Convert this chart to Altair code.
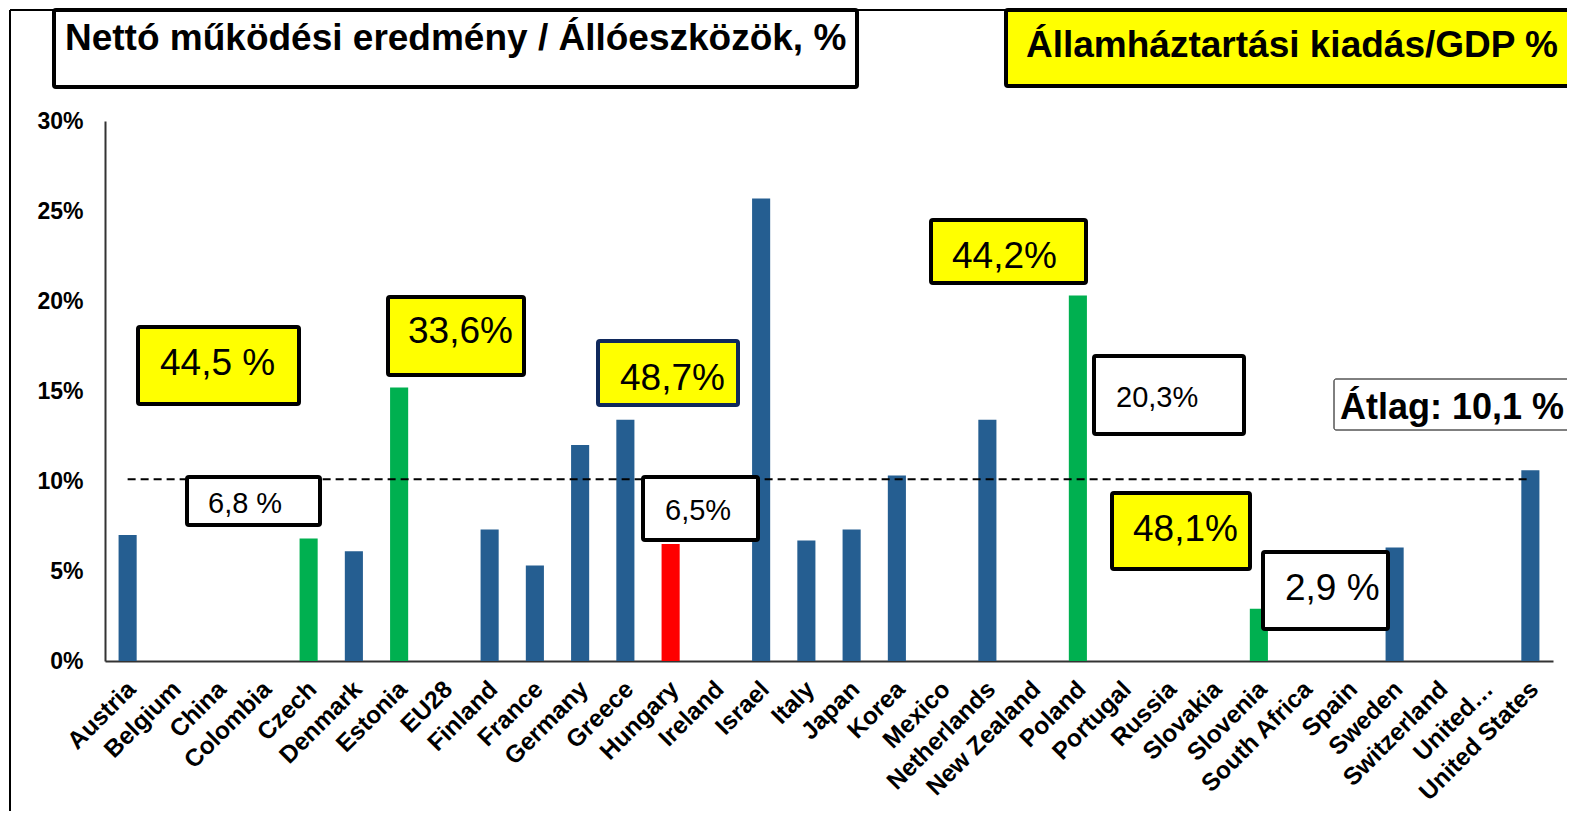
import altair as alt
import pandas as pd

# ---------------- data ----------------
categories = ["Austria", "Belgium", "China", "Colombia", "Czech", "Denmark", "Estonia",
              "EU28", "Finland", "France", "Germany", "Greece", "Hungary", "Ireland",
              "Israel", "Italy", "Japan", "Korea", "Mexico", "Netherlands", "New Zealand",
              "Poland", "Portugal", "Russia", "Slovakia", "Slovenia", "South Africa",
              "Spain", "Sweden", "Switzerland", "United…", "United States"]
values = [7.0, None, None, None, 6.8, 6.1, 15.2,
          None, 7.3, 5.3, 12.0, 13.4, 6.5, None,
          25.7, 6.7, 7.3, 10.3, None, 13.4, None,
          20.3, None, None, None, 2.9, None,
          None, 6.3, None, None, 10.6]
groups = ["other", "other", "other", "other", "peer", "other", "peer",
          "other", "other", "other", "other", "other", "hungary", "other",
          "other", "other", "other", "other", "other", "other", "other",
          "peer", "other", "other", "other", "peer", "other",
          "other", "other", "other", "other", "other"]
average = 10.1
y_ticks = [0, 5, 10, 15, 20, 25, 30]

title_left = "Nettó működési eredmény / Állóeszközök, %"
title_right = "Államháztartási kiadás/GDP %"
note_texts = ["44,5 %", "33,6%", "48,7%", "6,8 %", "6,5%", "44,2%", "20,3%", "48,1%", "2,9 %"]
average_text = "Átlag: 10,1 %"

# ---------------- layout (page pixel positions of decorations) ----------------
PAD_L, PAD_T, PAD_R, PAD_B = 97, 113, 14, 150
OX, OY = 8 + PAD_L, 8 + PAD_T      # page position of plot origin
W, H = 1448, 540
FONT = "Liberation Sans"
YELLOW = "#FFFF00"

def bx(x1, y1, x2, y2, fill, stroke, sw):
    return {"x": x1 - OX, "y": y1 - OY, "x2": x2 - OX, "y2": y2 - OY,
            "fill": fill, "stroke": stroke, "sw": sw}

boxes = pd.DataFrame([
    bx(54, 10, 857, 87, "white", "black", 4),
    bx(1006, 10, 1600, 86, YELLOW, "black", 4),
    bx(138, 327, 299, 404, YELLOW, "black", 4),
    bx(388, 297, 524, 375, YELLOW, "black", 4),
    bx(598, 341, 738, 405, YELLOW, "#10295C", 4),
    bx(187, 477, 320, 525, "white", "black", 4),
    bx(643, 477, 758, 540, "white", "black", 4),
    bx(931, 220, 1086, 283, YELLOW, "black", 4),
    bx(1094, 356, 1244, 434, "white", "black", 4),
    bx(1112, 493, 1250, 569, YELLOW, "black", 4),
    bx(1263, 552, 1388, 629, "white", "black", 4),
    bx(1334, 379, 1600, 430, "white", "black", 1),
])

def tx(t, x, y, size):
    return {"t": t, "x": x - OX, "y": y - OY, "size": size}

note_pos = [(160, 375, 37), (408, 343, 37), (620, 390, 37), (208, 513, 29), (665, 520, 29),
            (952, 268, 37), (1116, 407, 29), (1133, 541, 37), (1285, 600, 37)]
normal_texts = pd.DataFrame([tx(t, *p) for t, p in zip(note_texts, note_pos)])
bold_texts = pd.DataFrame([
    tx(title_left, 65, 50, 37),
    tx(title_right, 1026, 57, 37),
    tx(average_text, 1340, 419, 36),
])

frame = pd.DataFrame([
    {"x": 10 - OX, "y": 10 - OY, "x2": 1600 - OX, "y2": 10 - OY},
    {"x": 10 - OX, "y": 10 - OY, "x2": 10 - OX, "y2": 830 - OY},
])

# ---------------- chart ----------------
df = pd.DataFrame({"country": categories, "value": values, "group": groups})
avg_df = pd.DataFrame({"country": categories, "avg": [average] * len(categories)})

x_scale = alt.Scale(domain=categories, paddingInner=0.6, paddingOuter=0.3)
y_scale = alt.Scale(domain=[0, 30], nice=False)

bars = alt.Chart(df).mark_bar().encode(
    x=alt.X("country:N", scale=x_scale, sort=categories, title=None,
            axis=alt.Axis(labelAngle=-45, labelAlign="right", labelBaseline="top",
                          labelFontSize=24.5, labelFontWeight="bold", labelFont=FONT,
                          labelColor="black", labelPadding=16, labelOffset=-4,
                          labelLimit=400, ticks=False, domainColor="#333333",
                          domainWidth=2)),
    y=alt.Y("value:Q", scale=y_scale, title=None,
            axis=alt.Axis(values=y_ticks, labelExpr="datum.value + '%'",
                          labelFontSize=23, labelFontWeight="bold", labelFont=FONT,
                          labelColor="black", labelPadding=22, ticks=False,
                          grid=False, domainColor="#333333", domainWidth=2)),
    color=alt.Color("group:N", legend=None,
                    scale=alt.Scale(domain=["other", "peer", "hungary"],
                                    range=["#255E91", "#00B050", "#FF0000"])),
)

avg_line = alt.Chart(avg_df).mark_line(color="black", strokeWidth=2,
                                       strokeDash=[8, 5]).encode(
    x=alt.X("country:N", scale=x_scale, sort=categories),
    y=alt.Y("avg:Q", scale=y_scale),
)

frame_layer = alt.Chart(frame).mark_rule(color="black", strokeWidth=2).encode(
    x=alt.X("x:Q", scale=None, axis=None), y=alt.Y("y:Q", scale=None, axis=None),
    x2="x2:Q", y2="y2:Q",
)

box_layer = alt.Chart(boxes).mark_rect(cornerRadius=2).encode(
    x=alt.X("x:Q", scale=None, axis=None), y=alt.Y("y:Q", scale=None, axis=None),
    x2="x2:Q", y2="y2:Q",
    fill=alt.Fill("fill:N", scale=None),
    stroke=alt.Stroke("stroke:N", scale=None),
    strokeWidth=alt.StrokeWidth("sw:Q", scale=None),
)

normal_layer = alt.Chart(normal_texts).mark_text(
    align="left", baseline="alphabetic", font=FONT, color="black").encode(
    x=alt.X("x:Q", scale=None, axis=None), y=alt.Y("y:Q", scale=None, axis=None),
    text="t:N", size=alt.Size("size:Q", scale=None),
)

bold_layer = alt.Chart(bold_texts).mark_text(
    align="left", baseline="alphabetic", font=FONT, fontWeight="bold", color="black").encode(
    x=alt.X("x:Q", scale=None, axis=None), y=alt.Y("y:Q", scale=None, axis=None),
    text="t:N", size=alt.Size("size:Q", scale=None),
)

chart = alt.layer(frame_layer, bars, avg_line, box_layer, normal_layer, bold_layer).properties(
    width=W, height=H,
    autosize=alt.AutoSizeParams(type="none"),
    padding={"left": PAD_L, "top": PAD_T, "right": PAD_R, "bottom": PAD_B},
    background="white",
).configure_view(stroke=None)

chart.save("out.html", embed_options={"renderer": "svg", "actions": False})
